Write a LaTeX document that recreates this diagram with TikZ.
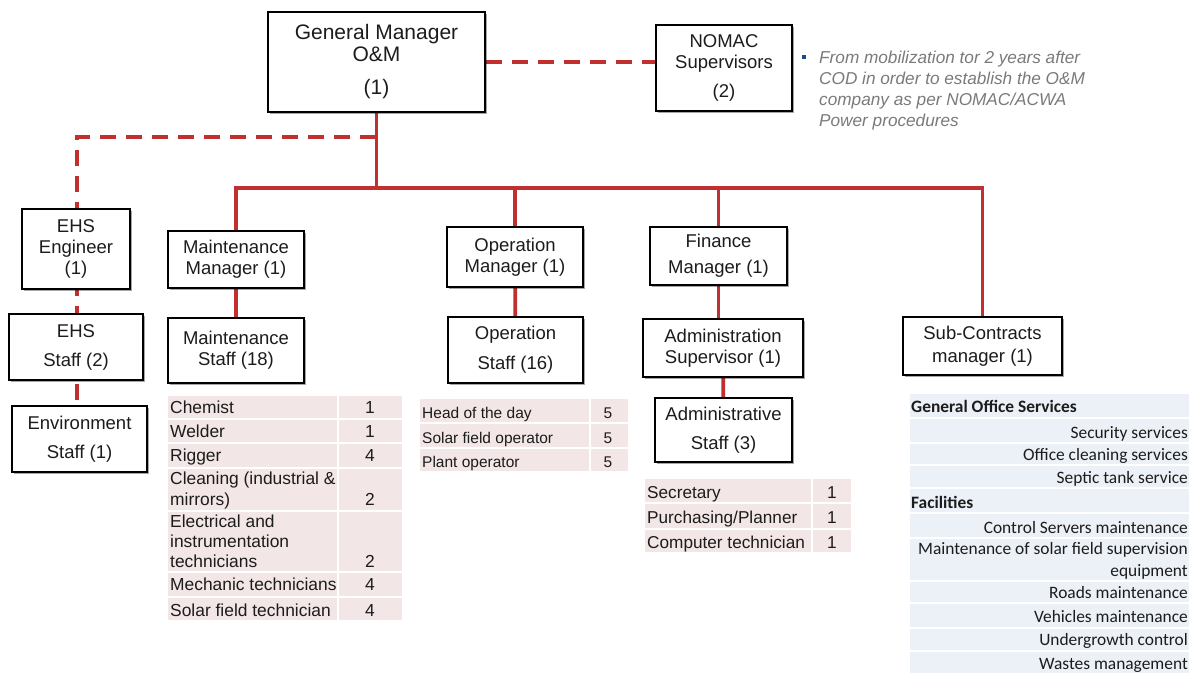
\documentclass[tikz,border=0pt]{standalone}
\usepackage{fontspec}
\setmainfont{Liberation Sans}
\newfontfamily\calfont{Carlito}
\usetikzlibrary{shadows,backgrounds}
\definecolor{orgred}{RGB}{192,48,48}
\definecolor{pinkc}{RGB}{243,230,230}
\definecolor{bluec}{RGB}{236,241,248}
\definecolor{txt}{RGB}{28,28,28}
\definecolor{notec}{RGB}{122,122,122}
\definecolor{bulletc}{RGB}{31,73,145}
\begin{document}
\begin{tikzpicture}[x=1pt,y=-1pt,
 box/.style={draw=black, line width=1.3pt, fill=white, text=txt, align=center, inner sep=0pt,
   font=\fontsize{18.5}{21}\selectfont,
   drop shadow={shadow xshift=1.5pt, shadow yshift=-1.5pt, fill=black, opacity=0.35}},
 conn/.style={draw=orgred, line width=3.8pt, line cap=rect},
 dconn/.style={draw=orgred, line width=3.8pt, dash pattern=on 16pt off 10pt},
 mtt/.style={anchor=base west, inner sep=0pt, text=txt, font=\fontsize{17.4}{20}\selectfont},
 mtn/.style={anchor=base, inner sep=0pt, text=txt, font=\fontsize{17.4}{20}\selectfont},
 opt/.style={anchor=base west, inner sep=0pt, text=txt, font=\fontsize{15.5}{18}\selectfont},
 opn/.style={anchor=base, inner sep=0pt, text=txt, font=\fontsize{15.5}{18}\selectfont},
 adt/.style={anchor=base west, inner sep=0pt, text=txt, font=\fontsize{17.2}{20}\selectfont},
 adn/.style={anchor=base, inner sep=0pt, text=txt, font=\fontsize{17.2}{20}\selectfont},
 sct/.style={anchor=base east, inner sep=0pt, text=txt, font=\calfont\fontsize{17.4}{20}\selectfont},
 scb/.style={anchor=base west, inner sep=0pt, text=txt, font=\calfont\bfseries\fontsize{17.4}{20}\selectfont},
 ntt/.style={anchor=base west, inner sep=0pt, text=notec, font=\itshape\fontsize{17.2}{20}\selectfont}
]
\useasboundingbox (0,0) rectangle (1189,673);

% boxes
\node[box, minimum width=217pt, minimum height=100pt, font=\fontsize{21}{22}\selectfont] (gm) at (376.5,62) {General Manager\\O\&M\\[11pt](1)};
\node[box, minimum width=136pt, minimum height=86pt] (nomac) at (724,68) {NOMAC\\Supervisors\\[8pt](2)};
\node[box, minimum width=108pt, minimum height=80pt] (ehse) at (76,249) {EHS\\Engineer\\(1)};
\node[box, minimum width=134pt, minimum height=66pt] (ehss) at (76,347) {EHS\\[8pt]Staff (2)};
\node[box, minimum width=135pt, minimum height=66pt] (env) at (79.5,439) {Environment\\[8pt]Staff (1)};
\node[box, minimum width=136pt, minimum height=57pt] (mm) at (236,259.5) {Maintenance\\Manager (1)};
\node[box, minimum width=136pt, minimum height=65pt] (ms) at (236,350.5) {Maintenance\\Staff (18)};
\node[box, minimum width=136pt, minimum height=60pt] (om) at (515,257) {Operation\\Manager (1)};
\node[box, minimum width=135pt, minimum height=66pt] (os) at (515.5,350) {Operation\\[9pt]Staff (16)};
\node[box, minimum width=137pt, minimum height=58pt] (fm) at (718.5,256) {Finance\\[5pt]Manager (1)};
\node[box, minimum width=160pt, minimum height=58pt] (asup) at (723,348) {Administration\\Supervisor (1)};
\node[box, minimum width=137pt, minimum height=64pt] (ast) at (723.5,430) {Administrative\\[8pt]Staff (3)};
\node[box, minimum width=159pt, minimum height=58pt] (sub) at (982.5,346) {Sub-Contracts\\[2pt]manager (1)};

% connectors
\coordinate (busL) at (236,188);
\coordinate (busR) at (982.5,188);
\coordinate (dj) at (376,137);
\coordinate (dc) at (77,137);
\begin{scope}[on background layer]
\draw[conn] (gm.south) -- (gm.south |- busL);
\draw[conn] (busL) -- (busR);
\draw[conn] (busL) -- (mm.north);
\draw[conn] (om.north |- busL) -- (om.north);
\draw[conn] (fm.north |- busL) -- (fm.north);
\draw[conn] (busR) -- (sub.north);
\draw[conn] (mm) -- (ms);
\draw[conn] (om) -- (os);
\draw[conn] (fm.south) -- (fm.south |- asup.north);
\draw[conn] (asup) -- (ast);
\draw[dconn] (gm.east) -- (gm.east -| nomac.west);
\draw[dconn] (dj) -- (dc) -- (dc |- env.north);
\end{scope}

% note
\fill[bulletc] (802,55) rectangle (806,59);
\node[ntt] (n1) at (819,63) {From mobilization tor 2 years after};
\node[ntt] (n2) at (819,84) {COD in order to establish the O\&M};
\node[ntt] (n3) at (819,105) {company as per NOMAC/ACWA};
\node[ntt] (n4) at (819,126) {Power procedures};

% maintenance table
\foreach \a/\b in {396/418, 420/442, 444/467, 469/510, 512/571, 573/596, 598/620}{
  \fill[pinkc] (168,\a) rectangle (337,\b);
  \fill[pinkc] (339,\a) rectangle (402,\b);
}
\node[mtt] (m1) at (170,413) {Chemist};          \node[mtn] (m1n) at (370,413) {1};
\node[mtt] (m2) at (170,437) {Welder};           \node[mtn] (m2n) at (370,437) {1};
\node[mtt] (m3) at (170,461) {Rigger};           \node[mtn] (m3n) at (370,461) {4};
\node[mtt] (m4a) at (170,484) {Cleaning (industrial \&};
\node[mtt] (m4b) at (170,505) {mirrors)};        \node[mtn] (m4n) at (370,505) {2};
\node[mtt] (m5a) at (170,527) {Electrical and};
\node[mtt] (m5b) at (170,547) {instrumentation};
\node[mtt] (m5c) at (170,567) {technicians};     \node[mtn] (m5n) at (370,567) {2};
\node[mtt] (m6) at (170,590) {Mechanic technicians}; \node[mtn] (m6n) at (370,590) {4};
\node[mtt] (m7) at (170,616) {Solar field technician}; \node[mtn] (m7n) at (370,616) {4};

% operation table
\foreach \a/\b in {399/422, 424/447, 449/471}{
  \fill[pinkc] (420,\a) rectangle (589,\b);
  \fill[pinkc] (591,\a) rectangle (628,\b);
}
\node[opt] (o1) at (422,418) {Head of the day};      \node[opn] (o1n) at (608,418) {5};
\node[opt] (o2) at (422,443) {Solar field operator}; \node[opn] (o2n) at (608,443) {5};
\node[opt] (o3) at (422,467) {Plant operator};       \node[opn] (o3n) at (608,467) {5};

% admin table
\foreach \a/\b in {479/502, 504/528, 530/552}{
  \fill[pinkc] (645,\a) rectangle (811,\b);
  \fill[pinkc] (813,\a) rectangle (851,\b);
}
\node[adt] (a1) at (647,498) {Secretary};            \node[adn] (a1n) at (832,498) {1};
\node[adt] (a2) at (647,523) {Purchasing/Planner};   \node[adn] (a2n) at (832,523) {1};
\node[adt] (a3) at (647,548) {Computer technician};  \node[adn] (a3n) at (832,548) {1};

% sub-contracts table
\foreach \a/\b in {394/417, 419/442, 444/464, 466/487, 489/512, 514/537, 539/580, 582/602, 604/627, 629/650, 652/673}{
  \fill[bluec] (910,\a) rectangle (1189,\b);
}
\node[scb] (s0) at (911,412) {General Office Services};
\node[sct] (s1) at (1188,438) {Security services};
\node[sct] (s2) at (1188,460) {Office cleaning services};
\node[sct] (s3) at (1188,483) {Septic tank service};
\node[scb] (s4) at (911,508) {Facilities};
\node[sct] (s5) at (1188,533) {Control Servers maintenance};
\node[sct] (s6a) at (1188,554) {Maintenance of solar field supervision};
\node[sct] (s6b) at (1188,576) {equipment};
\node[sct] (s7) at (1188,598) {Roads maintenance};
\node[sct] (s8) at (1188,622) {Vehicles maintenance};
\node[sct] (s9) at (1188,645) {Undergrowth control};
\node[sct] (s10) at (1188,669) {Wastes management};
\end{tikzpicture}
\end{document}
